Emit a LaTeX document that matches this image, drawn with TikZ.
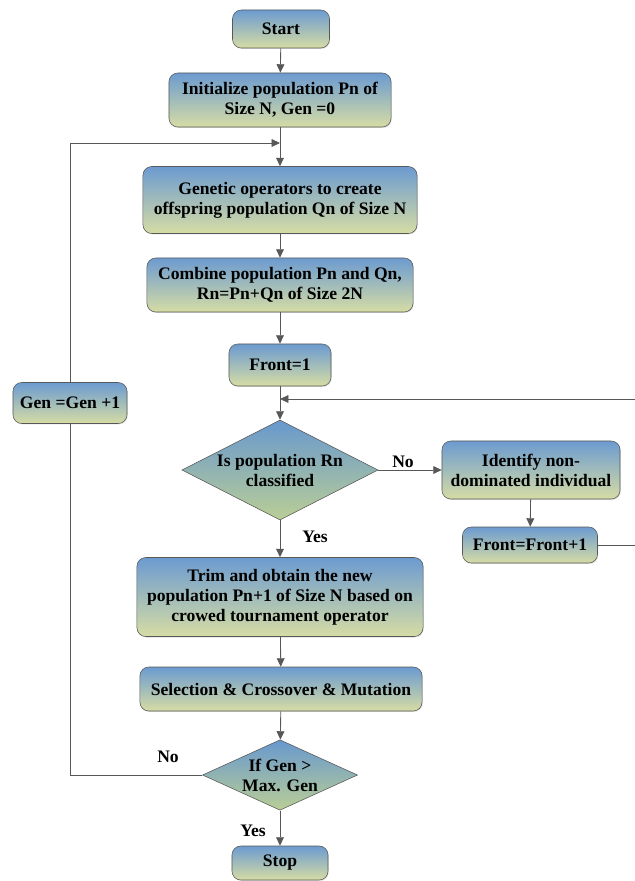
\documentclass[tikz,border=0pt]{standalone}
\usepackage{fontspec}
\setmainfont{Liberation Serif}
\usetikzlibrary{shapes.geometric,arrows.meta,shadows}
\definecolor{boxtop}{RGB}{108,155,208}
\definecolor{boxbot}{RGB}{214,220,164}
\definecolor{diatop}{RGB}{104,152,206}
\definecolor{diabot}{RGB}{186,206,150}
\definecolor{linegray}{RGB}{88,88,88}
\tikzset{
	box/.style={draw=linegray,rounded corners=2.2mm,top color=boxtop,bottom color=boxbot,align=center,inner sep=1pt,font=\fontsize{12.5}{14.2}\selectfont\bfseries,drop shadow={shadow xshift=0.5pt,shadow yshift=-0.7pt,opacity=0.25}},
	dia/.style={draw=linegray,shape=diamond,top color=diatop,bottom color=diabot,align=center,inner sep=0pt,aspect=2,font=\fontsize{12.5}{14.2}\selectfont\bfseries},
	arr/.style={draw=linegray,line width=0.6pt,-{Triangle[length=6pt,width=5.5pt]}},
	ln/.style={draw=linegray,line width=0.6pt},
	lab/.style={font=\fontsize{12.5}{14}\selectfont\bfseries}
}
\begin{document}
\begin{tikzpicture}[x=0.025cm,y=-0.025cm]
	\useasboundingbox (0,0) rectangle (635,881);
	\node[box,minimum width=2.425cm,minimum height=0.95cm] at (281,29) (start) {Start};
	\node[box,minimum width=5.55cm,minimum height=1.35cm] at (280,100) (init) {Initialize population Pn of\\Size N, Gen =0};
	\node[box,minimum width=6.85cm,minimum height=1.675cm] at (280,200) (genetic) {Genetic operators to create\\offspring population Qn of Size N};
	\node[box,minimum width=6.65cm,minimum height=1.35cm] at (280,285) (combine) {Combine population Pn and Qn,\\Rn=Pn+Qn of Size 2N};
	\node[box,minimum width=2.55cm,minimum height=1.05cm] at (280,365) (front) {Front=1};
	\node[dia,minimum width=4.9cm,minimum height=2.5cm] at (280,470) (classified) {Is population Rn\\classified};
	\node[box,minimum width=4.45cm,minimum height=1.45cm] at (531,470) (identify) {Identify non-\\dominated individual};
	\node[box,minimum width=3.375cm,minimum height=0.9cm] at (530,545) (frontinc) {Front=Front+1};
	\node[box,minimum width=7.15cm,minimum height=1.975cm] at (280,597) (trim) {Trim and obtain the new\\population Pn+1 of Size N based on\\crowed tournament operator};
	\node[box,minimum width=7.05cm,minimum height=1.1cm] at (281,689) (select) {Selection \& Crossover \& Mutation};
	\node[dia,minimum width=3.875cm,minimum height=1.675cm] at (280,775) (maxgen) {If Gen >\\Max. Gen};
	\node[box,minimum width=2.85cm,minimum height=1.025cm] at (70,403) (gen) {Gen =Gen +1};
	\node[box,minimum width=2.4cm,minimum height=0.85cm] at (280,863) (stop) {Stop};
	\coordinate (m1) at (280,143);
	\coordinate (m2) at (280,399);
	\coordinate (r) at (635,399);
	\node[lab] at (403,462) (no1) {No};
	\node[lab] at (315,537) (yes1) {Yes};
	\node[lab] at (168,757) (no2) {No};
	\node[lab] at (253,831) (yes2) {Yes};
	\path[arr] (start) -- (init);
	\path[arr] (init) -- (genetic);
	\path[arr] (gen) |- (m1);
	\path[ln] (maxgen.west) -| (gen);
	\path[arr] (genetic) -- (combine);
	\path[arr] (combine) -- (front);
	\path[arr] (front) -- (classified);
	\path[ln] (frontinc) -| (r);
	\path[arr] (r) -- (m2);
	\path[arr] (classified) -- (identify);
	\path[arr] (identify) -- (frontinc);
	\path[arr] (classified) -- (trim);
	\path[arr] (trim) -- (select);
	\path[arr] (select) -- (maxgen);
	\path[arr] (maxgen) -- (stop);
\end{tikzpicture}
\end{document}
